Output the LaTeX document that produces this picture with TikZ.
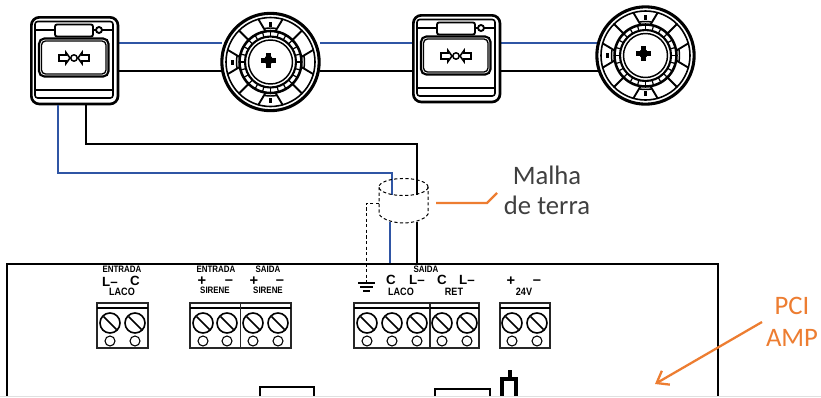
\documentclass[tikz,border=0pt]{standalone}
\usepackage{fontspec}
\setmainfont{Carlito}
\newfontfamily\lblfont{Liberation Sans}
\usetikzlibrary{arrows.meta,shapes.geometric}
\definecolor{wblue}{HTML}{2F55A4}
\definecolor{orng}{HTML}{ED7D31}
\definecolor{txtg}{HTML}{404040}
\tikzset{
  x=0.75pt,y=-0.75pt,
  wireb/.style={draw=black,line width=2pt},
  wirec/.style={draw=wblue,line width=2pt},
  blockbox/.style={draw=black!85,line width=0.9pt},
  lbl/.style={font=\lblfont\fontsize{7}{7}\selectfont\bfseries,inner sep=0pt,xscale=0.85},
  lblc/.style={font=\lblfont\fontsize{8}{8}\selectfont\bfseries,inner sep=0pt,xscale=0.85},
  lblb/.style={font=\lblfont\fontsize{10}{10}\selectfont\bfseries,inner sep=0pt},
  lbld/.style={font=\lblfont\fontsize{11}{11}\selectfont\bfseries,inner sep=0pt},
  big/.style={font=\fontsize{20}{22}\selectfont,inner sep=0pt},
  dash1/.style={draw=black,line width=0.75pt,dash pattern=on 2.4pt off 1.8pt},
  orln/.style={draw=orng,line width=1.7pt},
}
\newcommand{\stationbox}[3]{%
 \begin{scope}[shift={(#2,#3)}]
  \node[draw=black,line width=2pt,rounded corners=6pt,minimum width=65pt,minimum height=65pt,inner sep=0pt,anchor=north west] (#1) at (0,0) {};
  \draw[line width=1.2pt,rounded corners=2pt] (5,5.5) rectangle (83,82);
  \draw[line width=1.5pt] (5,14) -- (25,14) (63,14) -- (66,14) (72,14) -- (83,14);
  \draw[line width=1.4pt,rounded corners=1.5pt] (25,8.5) rectangle (63,20.5);
  \draw[line width=1.4pt] (69,14) circle (3);
  \draw[line width=1.6pt,rounded corners=4pt] (9,22.5) rectangle (78.5,60.5);
  \draw[line width=1pt,rounded corners=3pt] (11.5,25) rectangle (76,58);
  \draw[line width=2.2pt] (5,74) -- (83,74);
  \draw[line width=1.2pt,line join=miter] (29,39) -- (29,45) -- (36,45) -- (36,47.5) -- (40,42) -- (36,36.5) -- (36,39) -- cycle;
  \draw[line width=1.2pt,line join=miter] (59,39) -- (59,45) -- (52,45) -- (52,47.5) -- (48,42) -- (52,36.5) -- (52,39) -- cycle;
  \draw[line width=1.1pt] (44,42) circle (3.2);
 \end{scope}}
\newcommand{\detectorbox}[3]{%
 \begin{scope}[shift={(#2,#3)}]
  \node[draw=black,line width=2.3pt,circle,minimum size=73pt,inner sep=0pt] (#1) at (0,0) {};
  \draw[line width=1.2pt] (0,0) circle (44.5);
  \draw[line width=1.9pt] (0,0) circle (31);
  \draw[line width=1.6pt] (0,0) circle (25.5);
  \draw[line width=1.1pt] (0,0) circle (22);
  \foreach \a in {0,15,...,345} \draw[line width=0.9pt] (\a:25.5) -- (\a:31);
  \foreach \a in {45,135,225,315} \draw[line width=1.4pt] (\a:31) -- (\a:45);
  \foreach \a in {0,90,180,270} {
    \draw[line width=1.4pt] (\a-9:31) -- (\a-16:45);
    \draw[line width=1.4pt] (\a+9:31) -- (\a+16:45);
    \draw[line width=1.1pt] (\a-10:34) arc[start angle=\a-10,end angle=\a+10,radius=34];
  }
  \foreach \a in {90,180,270} \fill (\a:38) ++(-1.2,-2.5) rectangle ++(2.4,5);
  \begin{scope}[shift={(-2,-2)}]
  \fill (-2.5,-7.5) rectangle (2.5,7.5);
  \fill (-7.5,-2.5) rectangle (7.5,2.5);
  \fill (0,0) circle (4.5);
  \end{scope}
 \end{scope}}
\newcommand{\screwp}[1]{%
  \draw[line width=1.2pt] (#1,323) circle (10);
  \draw[line width=1.2pt] (#1-6.5,316.5) -- (#1+6.5,329.5);
  \draw[line width=0.8pt] (#1,341) circle (5);}
\begin{document}
\begin{tikzpicture}
\useasboundingbox (0,0) rectangle (821,397);
\fill[white] (0,0) rectangle (821,397);
% wires behind devices
\coordinate (wa1) at (118,43); \coordinate (wa2) at (222,43);
\coordinate (wa3) at (320,43); \coordinate (wa4) at (412,43);
\coordinate (wa5) at (500,43); \coordinate (wa6) at (598,43);
\coordinate (wk1) at (118,71); \coordinate (wk2) at (222,71);
\coordinate (wk3) at (320,71); \coordinate (wk4) at (412,71);
\coordinate (wk5) at (500,71); \coordinate (wk6) at (598,71);
\draw[wirec] (wa1) -- (wa2) (wa3) -- (wa4) (wa5) -- (wa6);
\draw[wireb] (wk1) -- (wk2) (wk3) -- (wk4) (wk5) -- (wk6);
\stationbox{st1}{30}{16}
\stationbox{st2}{412}{14}
\detectorbox{det1}{270.5}{62}
\detectorbox{det2}{645.5}{55.5}
% cable
\coordinate (cb0) at (58,105); \coordinate (cb1) at (58,173); \coordinate (cb2) at (392,173); \coordinate (cb3) at (392,195);
\coordinate (ck0) at (86,105); \coordinate (ck1) at (86,144); \coordinate (ck2) at (417,144); \coordinate (ck3) at (417,195);
\coordinate (cb4) at (390,222); \coordinate (cb5) at (390,264);
\coordinate (ck4) at (417,222); \coordinate (ck5) at (417,264);
\draw[wirec] (cb0) -- (cb1) -- (cb2) -- (cb3);
\draw[wireb] (ck0) -- (ck1) -- (ck2) -- (ck3);
\draw[wirec] (cb4) -- (cb5);
\draw[wireb] (ck4) -- (ck5);
% shield
\node[dash1,ellipse,minimum width=36.8pt,minimum height=12.8pt,inner sep=0pt] (shld) at (403.5,187) {};
\draw[dash1] (379,187) -- (379,214) .. controls (382,220) and (395,223) .. (403.5,223) .. controls (412,223) and (425,220) .. (428,214) -- (428,187);
\coordinate (g0) at (379,203); \coordinate (g1) at (366.5,203); \coordinate (g2) at (366.5,283);
\draw[dash1] (g0) -- (g1) -- (g2);
\draw[line width=1.2pt] (358,283) -- (375,283);
\draw[line width=1.2pt] (360,287) -- (373,287);
\draw[line width=1.2pt] (363,291) -- (370,291);
% board
\coordinate (bd1) at (7,397); \coordinate (bd2) at (7,264); \coordinate (bd3) at (718,264); \coordinate (bd4) at (718,397);
\draw[line width=1.2pt] (bd1) -- (bd2) -- (bd3) -- (bd4);
% terminal blocks
\foreach \xa/\xb in {97/148,190/240.5,240.5/291,354/430,430/479,500/550}{
  \draw[blockbox] (\xa,303) rectangle (\xb,348);
  \draw[line width=0.8pt] (\xa,308) -- (\xb,308);
}
\foreach \s in {110,135,203,227,253,278,367,392,417,442,467,512,537}{\screwp{\s}}
% bottom shapes
\draw[line width=1.2pt] (260,397) -- (260,387) -- (314,387) -- (314,397);
\draw[line width=1.2pt] (435,397) -- (435,389) -- (490,389) -- (490,397);
\draw[line width=2.4pt] (502,397) -- (502,379) -- (516,379) -- (516,397);
\draw[line width=2.4pt] (510,379) -- (510,370);
\fill[black!12] (0,395.5) rectangle (821,397);
% labels
\node[lbl] (l1) at (122,269) {ENTRADA};
\node[lblb] (l2) at (110,281.5) {L–};
\node[lblb] (l3) at (135,281) {C};
\node[lblc] (l4) at (122,292) {LACO};
\node[lbl] (l5) at (216,269) {ENTRADA};
\node[lbld] (l6) at (202,281) {+};
\node[lbld] (l7) at (229,282) {–};
\node[lbl] (l8) at (215,290.5) {SIRENE};
\node[lbl] (l9) at (268,269) {SAIDA};
\node[lbld] (l10) at (254,281) {+};
\node[lbld] (l11) at (280,282) {–};
\node[lbl] (l12) at (268,290.5) {SIRENE};
\node[lbl] (l13) at (426,269) {SAIDA};
\node[lblb] (l14) at (391,280) {C};
\node[lblb] (l15) at (417,280) {L–};
\node[lblc] (l16) at (401,292) {LACO};
\node[lblb] (l17) at (442,280) {C};
\node[lblb] (l18) at (467,280) {L–};
\node[lblc] (l19) at (454,292) {RET};
\node[lbld] (l20) at (511,281) {+};
\node[lbld] (l21) at (537,282) {–};
\node[lblc] (l22) at (524,292) {24V};
% callouts
\node[big,text=txtg] (m1) at (547,175) {Malha};
\node[big,text=txtg] (m2) at (547,205) {de terra};
\node[big,text=orng] (p1) at (792,306) {PCI};
\node[big,text=orng] (p2) at (792,338) {AMP};
\coordinate (o1) at (436,203); \coordinate (o2) at (487,203); \coordinate (o3) at (497,193);
\draw[orln] (o1) -- (o2) -- (o3);
\coordinate (a1) at (762,322); \coordinate (a2) at (655,384);
\draw[orln,-{Straight Barb[length=8pt,width=12pt]}] (a1) -- (a2);
\end{tikzpicture}
\end{document}
